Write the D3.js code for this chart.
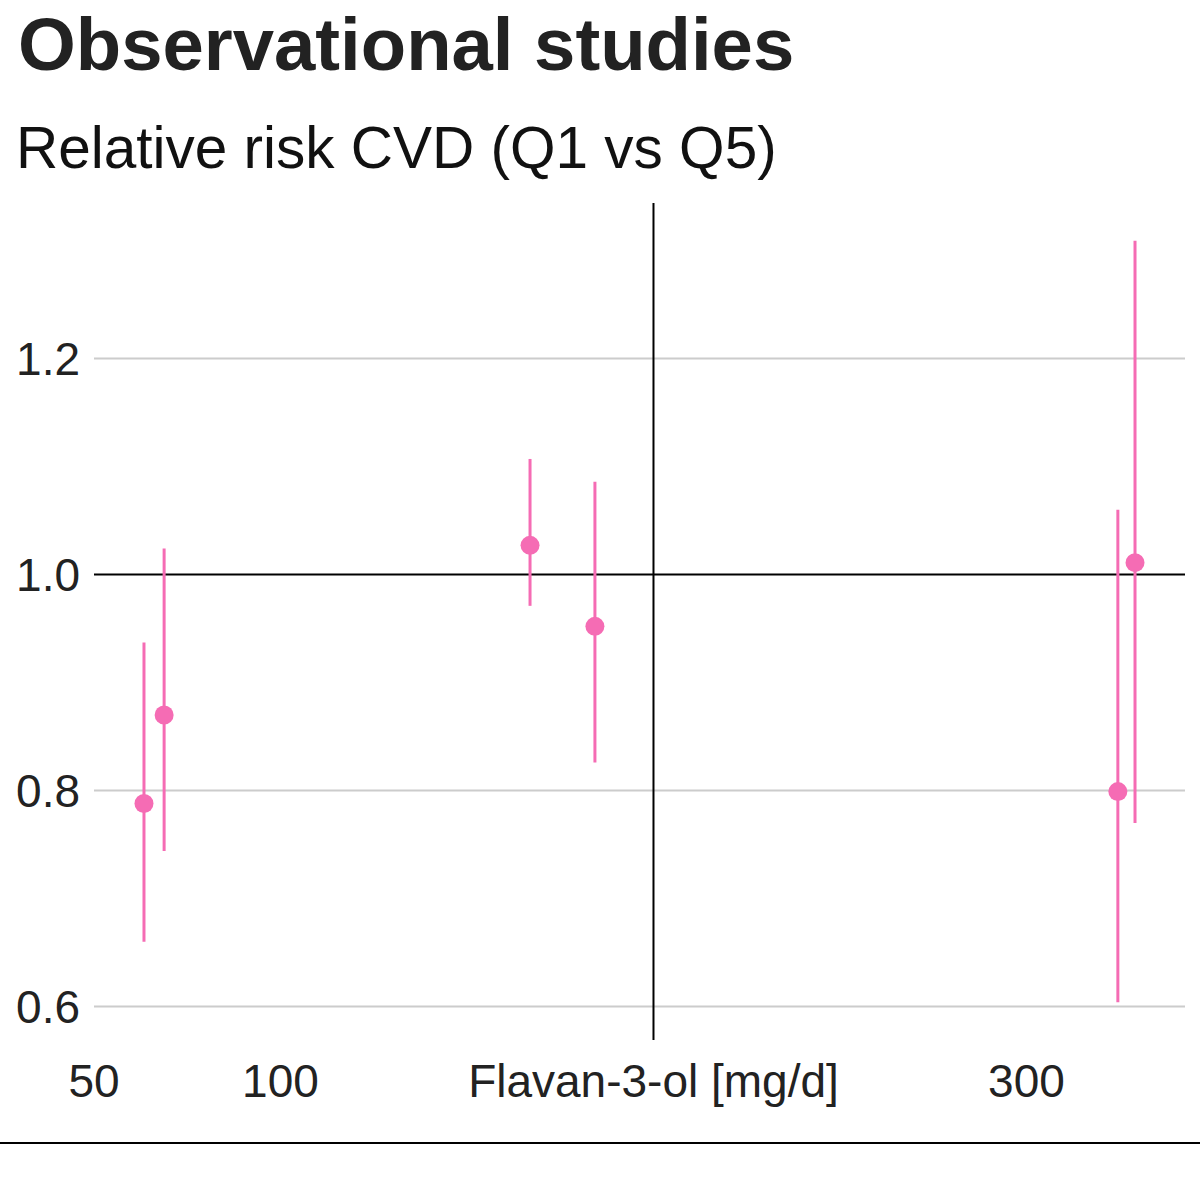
<!DOCTYPE html>
<html>
<head>
<meta charset="utf-8">
<script src="https://cdn.jsdelivr.net/npm/d3@7"></script>
<style>
  html, body { margin: 0; padding: 0; background: #fff; }
  svg { display: block; font-family: "Liberation Sans", Arial, Helvetica, sans-serif; }
</style>
</head>
<body>
<svg id="chart" width="1200" height="1200"></svg>
<script>
// ---- data ----
const studies   = ["S1", "S2", "S3", "S4", "S5", "S6"];
const intake    = [63.4, 68.8, 166.9, 184.3, 324.5, 329.1];   // mg/d
const rr        = [0.788, 0.870, 1.027, 0.952, 0.799, 1.011];
const ciLow     = [0.660, 0.744, 0.971, 0.826, 0.604, 0.770];
const ciHigh    = [0.937, 1.024, 1.107, 1.086, 1.060, 1.309];
const xTicks    = [50, 100, 200, 300];
const xTickLabels = ["50", "100", "Flavan-3-ol [mg/d]", "300"];
const yTicks    = [0.6, 0.8, 1.0, 1.2];
const xDomain   = [50, 342.5];
const yDomain   = [0.569, 1.344];
const refX      = 200;
const refY      = 1.0;

const titleText = "Observational studies";
const subtitleText = "Relative risk CVD (Q1 vs Q5)";

// ---- layout ----
const svg = d3.select("#chart");
const pink = "#f56cb4";

const x = d3.scaleLinear().domain(xDomain).range([94, 1185]);
const y = d3.scaleLinear().domain(yDomain).range([1040, 203]);

// title
svg.append("text").attr("x", 18).attr("y", 70)
  .attr("font-size", 74.3).attr("font-weight", "bold").attr("fill", "#222")
  .text(titleText);
svg.append("text").attr("x", 16).attr("y", 168)
  .attr("font-size", 58.5).attr("fill", "#111")
  .text(subtitleText);

// gridlines
svg.append("g").selectAll("line").data(yTicks.filter(t => t !== refY)).join("line")
  .attr("x1", x(xDomain[0])).attr("x2", x(xDomain[1]))
  .attr("y1", d => y(d)).attr("y2", d => y(d))
  .attr("stroke", "#cccccc").attr("stroke-width", 2);

// y tick labels
svg.append("g").selectAll("text").data(yTicks).join("text")
  .attr("x", 80).attr("y", d => y(d)).attr("dy", "0.36em")
  .attr("text-anchor", "end").attr("font-size", 46).attr("fill", "#222")
  .text(d => d3.format(".1f")(d));

// x tick labels
svg.append("g").selectAll("text").data(xTicks).join("text")
  .attr("x", d => x(d)).attr("y", 1097)
  .attr("text-anchor", "middle").attr("font-size", 46).attr("fill", "#222")
  .text((d, i) => xTickLabels[i]);

// reference lines
svg.append("line")
  .attr("x1", x(xDomain[0])).attr("x2", x(xDomain[1]))
  .attr("y1", y(refY)).attr("y2", y(refY))
  .attr("stroke", "#000").attr("stroke-width", 2);
svg.append("line")
  .attr("x1", x(refX)).attr("x2", x(refX))
  .attr("y1", y(yDomain[1])).attr("y2", y(yDomain[0]))
  .attr("stroke", "#000").attr("stroke-width", 2);

// error bars + points
const data = studies.map((s, i) => ({ s, x: intake[i], rr: rr[i], lo: ciLow[i], hi: ciHigh[i] }));
svg.append("g").selectAll("line").data(data).join("line")
  .attr("x1", d => x(d.x)).attr("x2", d => x(d.x))
  .attr("y1", d => y(d.lo)).attr("y2", d => y(d.hi))
  .attr("stroke", pink).attr("stroke-width", 3);
svg.append("g").selectAll("circle").data(data).join("circle")
  .attr("cx", d => x(d.x)).attr("cy", d => y(d.rr)).attr("r", 9.5)
  .attr("fill", pink);

// bottom rule
svg.append("line").attr("x1", 0).attr("x2", 1200).attr("y1", 1143).attr("y2", 1143)
  .attr("stroke", "#000").attr("stroke-width", 2);
</script>
</body>
</html>
